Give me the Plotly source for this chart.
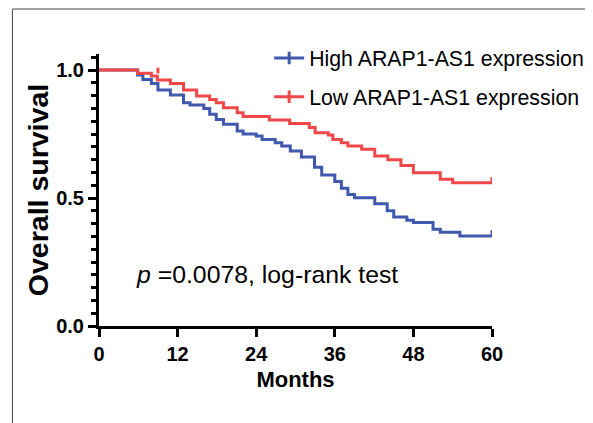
import plotly.graph_objects as go

# ---- data ----
high_months = [0, 5.9, 6.7, 8.0, 9.0, 10.9, 12.9, 13.9, 16.0, 16.9, 17.9, 19.0, 21.1, 22.0,
               24.0, 24.9, 26.9, 27.9, 29.2, 30.9, 32.9, 34.0, 36.0, 37.0, 38.0, 39.0,
               42.1, 44.0, 45.0, 47.0, 48.0, 51.0, 52.1, 55.1, 60]
high_surv = [1.0, 0.98, 0.963, 0.947, 0.922, 0.902, 0.872, 0.863, 0.85, 0.827, 0.807, 0.788, 0.762, 0.75,
             0.742, 0.729, 0.716, 0.703, 0.684, 0.66, 0.62, 0.59, 0.564, 0.538, 0.514, 0.501,
             0.478, 0.45, 0.426, 0.413, 0.404, 0.378, 0.366, 0.352, 0.352]

low_months = [0, 5.9, 8.0, 8.9, 10.9, 12.9, 14.9, 16.9, 17.9, 19.0, 21.1, 22.0, 26.0, 29.1,
              32.1, 33.0, 35.0, 35.7, 37.0, 38.0, 40.1, 42.1, 44.1, 46.1, 48.0, 52.1, 54.0, 60]
low_surv = [1.0, 0.987, 0.977, 0.961, 0.947, 0.922, 0.898, 0.885, 0.872, 0.853, 0.833, 0.818, 0.805, 0.791,
            0.775, 0.755, 0.746, 0.729, 0.716, 0.703, 0.69, 0.664, 0.649, 0.627, 0.599, 0.573, 0.56, 0.56]

high_censor_months = [60]
high_censor_surv = [0.352]
low_censor_months = [9.0, 60]
low_censor_surv = [0.987, 0.56]

series_names = ["High ARAP1-AS1 expression", "Low ARAP1-AS1 expression"]
x_ticks = [0, 12, 24, 36, 48, 60]
y_ticks = [0.0, 0.5, 1.0]
y_tick_labels = ["0.0", "0.5", "1.0"]

BLUE = "#4058AD"
RED = "#F04848"
FONT = "Arial, Liberation Sans, Helvetica, sans-serif"

fig = go.Figure()

for months, surv, cm, cs, name, col, grp in [
    (high_months, high_surv, high_censor_months, high_censor_surv, series_names[0], BLUE, "h"),
    (low_months, low_surv, low_censor_months, low_censor_surv, series_names[1], RED, "l"),
]:
    fig.add_trace(go.Scatter(x=months, y=surv, mode="lines", line=dict(color=col, width=3, shape="hv"),
                             showlegend=False, hoverinfo="skip"))
    fig.add_trace(go.Scatter(x=cm, y=cs, mode="markers", marker=dict(size=0.1, color=col),
                             error_y=dict(type="data", symmetric=False, array=[0.022] * len(cm),
                                          arrayminus=[0] * len(cm), width=0, thickness=3, color=col),
                             showlegend=False, hoverinfo="skip"))
    fig.add_trace(go.Scatter(x=[None], y=[None], mode="lines+markers", name=name, legendgroup=grp,
                             line=dict(color=col, width=3),
                             marker=dict(symbol="line-ns-open", size=9, color=col, line=dict(width=3, color=col))))

fig.add_annotation(x=5.3, y=0.2, xref="x", yref="y", xanchor="left", yanchor="middle",
                   text="<i>p</i> =0.0078, log-rank test", showarrow=False,
                   font=dict(family=FONT, size=24.8, color="black"))

# outer frame lines (cropped figure border)
fig.add_shape(type="line", xref="paper", yref="paper", x0=-0.2203, x1=1.3, y0=1.1654, y1=1.1654,
              line=dict(color="#444", width=1))
fig.add_shape(type="line", xref="paper", yref="paper", x0=-0.2203, x1=-0.2203, y0=-0.45, y1=1.1654,
              line=dict(color="#444", width=1))

fig.update_layout(
    width=593, height=423,
    margin=dict(l=91, r=107, t=46, b=105),
    paper_bgcolor="white", plot_bgcolor="white",
    font=dict(family=FONT, color="black"),
    legend=dict(x=0.433, y=1.06, xanchor="left", yanchor="top", bgcolor="rgba(0,0,0,0)",
                font=dict(family=FONT, size=21.3, color="black"), tracegroupgap=8,
                itemwidth=30),
    xaxis=dict(range=[0, 60], tickvals=x_ticks, ticktext=[str(v) for v in x_ticks],
               showgrid=False, zeroline=False, showline=True, linecolor="black", linewidth=3,
               ticks="outside", ticklen=8, tickwidth=3, tickcolor="black",
               tickfont=dict(family=FONT, size=20, color="black", weight="bold"),
               title=dict(text="<b>Months</b>", font=dict(family=FONT, size=22, color="black"), standoff=8)),
    yaxis=dict(range=[0, 1.0625], tickvals=y_ticks, ticktext=y_tick_labels,
               showgrid=False, zeroline=False, showline=True, linecolor="black", linewidth=3,
               ticks="outside", ticklen=8, tickwidth=3, tickcolor="black",
               tickfont=dict(family=FONT, size=20, color="black", weight="bold"),
               minor=dict(dtick=0.05, tick0=0, ticks="outside", ticklen=5, tickwidth=2.5, tickcolor="black"),
               title=dict(text="<b>Overall survival</b>", font=dict(family=FONT, size=28.5, color="black"), standoff=0)),
)

fig.write_html("out.html")
